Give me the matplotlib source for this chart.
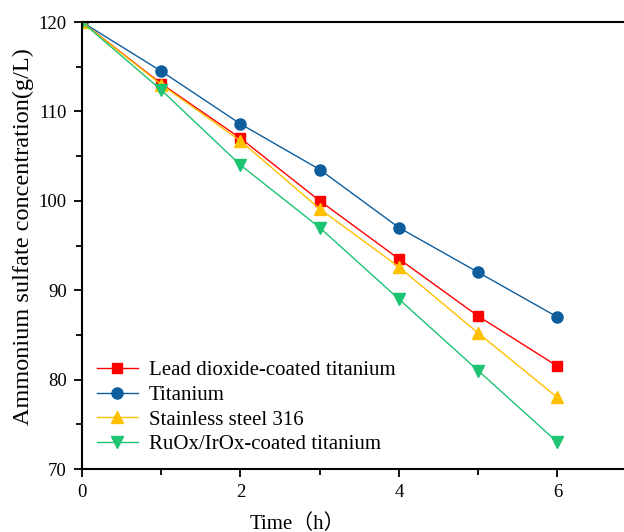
import matplotlib
matplotlib.use("Agg")
import matplotlib.pyplot as plt
from matplotlib.ticker import MultipleLocator

plt.rcParams['font.family'] = ['Liberation Serif', 'Noto Sans CJK SC', 'DejaVu Sans']

# data
time_h = [0, 1, 2, 3, 4, 5, 6]
lead_dioxide = [120, 113.1, 107.0, 100.0, 93.5, 87.1, 81.5]
titanium = [120, 114.5, 108.6, 103.5, 97.0, 92.0, 87.0]
stainless = [120, 113.0, 106.7, 99.1, 92.6, 85.2, 78.0]
ruox_irox = [120, 112.4, 104.0, 97.0, 89.0, 81.0, 73.0]

fig = plt.figure(figsize=(6.24, 5.32), dpi=100)
ax = fig.add_axes([0.1314, 0.1184, 0.8686, 0.8402])

ax.plot(time_h, lead_dioxide, color='#FF0000', marker='s', ms=7, lw=1,
        label='Lead dioxide-coated titanium')
ax.plot(time_h, titanium, color='#0E5E9E', marker='o', ms=8, lw=1,
        label='Titanium')
ax.plot(time_h, stainless, color='#FFC000', marker='^', ms=8.5, lw=1,
        label='Stainless steel 316')
ax.plot(time_h, ruox_irox, color='#1DC472', marker='v', ms=8.5, lw=1,
        label='RuOx/IrOx-coated titanium')

ax.set_xlim(0, 6.84)
ax.set_ylim(70, 120)
ax.xaxis.set_major_locator(MultipleLocator(2))
ax.xaxis.set_minor_locator(MultipleLocator(1))
ax.yaxis.set_major_locator(MultipleLocator(10))
ax.yaxis.set_minor_locator(MultipleLocator(5))
ax.tick_params(which='major', direction='out', length=6, width=1.3,
               labelsize=13.5, pad=5)
ax.tick_params(which='minor', direction='out', length=4, width=1.3)
ax.spines['right'].set_visible(False)
for s in ['left', 'bottom', 'top']:
    ax.spines[s].set_linewidth(1.5)

ax.set_xlabel('Time（h）', fontsize=15)
ax.xaxis.set_label_coords(0.397, -0.1)
ax.set_ylabel('Ammonium sulfate concentration(g/L)', fontsize=17.5)
ax.yaxis.set_label_coords(-0.088, 0.52)

ax.legend(loc='lower left', bbox_to_anchor=(0.0, 0.0), frameon=False,
          fontsize=15, handlelength=2.0, handletextpad=0.5, labelspacing=0.25,
          borderaxespad=0.3)

fig.savefig('out.png', dpi=100)
